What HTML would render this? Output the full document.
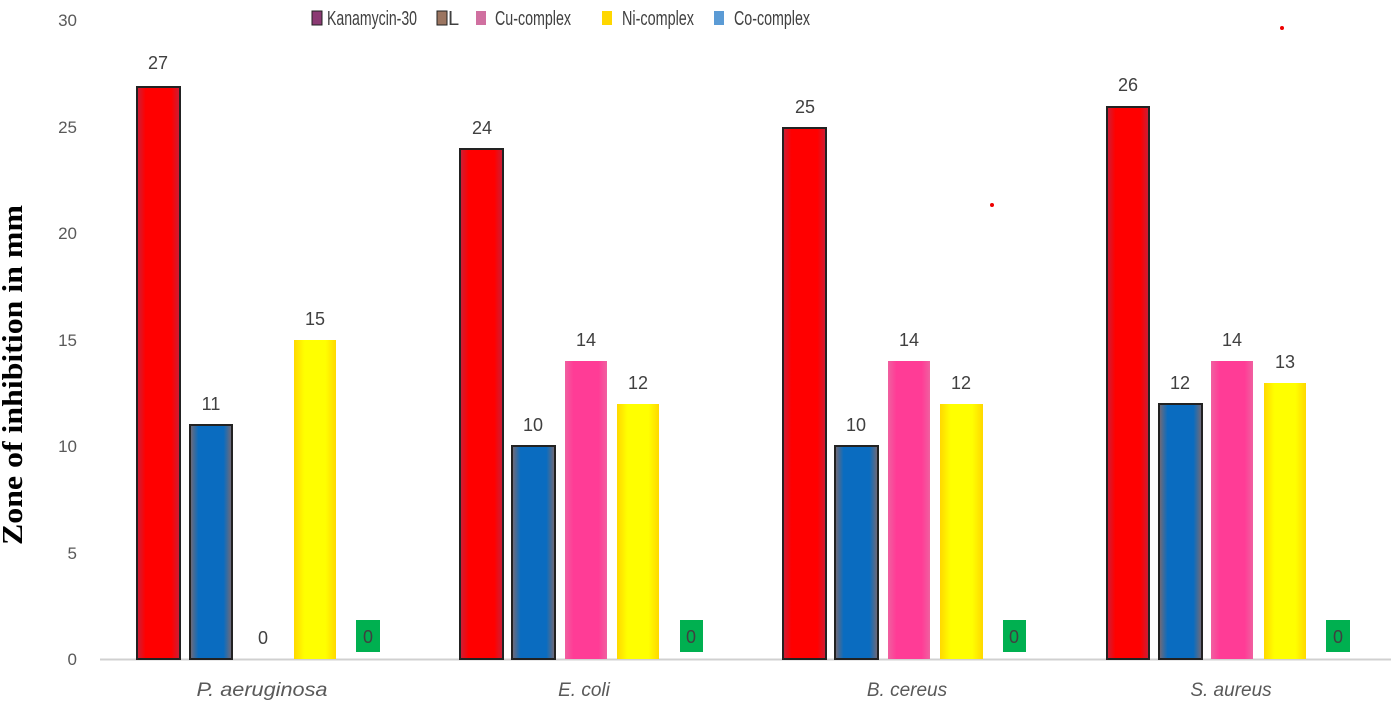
<!DOCTYPE html>
<html><head><meta charset="utf-8"><style>body{margin:0;background:#fff}svg{display:block}</style></head><body>
<svg width="1396" height="707" xmlns="http://www.w3.org/2000/svg" font-family="Liberation Sans, sans-serif">
<defs>
<linearGradient id="r" x1="0" x2="1"><stop offset="0" stop-color="#c8203a"/><stop offset=".2" stop-color="#ff0000"/><stop offset=".8" stop-color="#ff0000"/><stop offset="1" stop-color="#c8203a"/></linearGradient>
<linearGradient id="b" x1="0" x2="1"><stop offset="0" stop-color="#7a6a70"/><stop offset=".2" stop-color="#0a6cc0"/><stop offset=".8" stop-color="#0a6cc0"/><stop offset="1" stop-color="#7a6a70"/></linearGradient>
<linearGradient id="p" x1="0" x2="1"><stop offset="0" stop-color="#f060a0"/><stop offset=".2" stop-color="#ff3c96"/><stop offset=".8" stop-color="#ff3c96"/><stop offset="1" stop-color="#f060a0"/></linearGradient>
<linearGradient id="y" x1="0" x2="1"><stop offset="0" stop-color="#ffd800"/><stop offset=".25" stop-color="#ffff00"/><stop offset=".75" stop-color="#ffff00"/><stop offset="1" stop-color="#ffd800"/></linearGradient>
</defs>
<g fill="#595959" font-size="17" text-anchor="end">
<text x="77" y="665">0</text><text x="77" y="559">5</text><text x="77" y="452">10</text><text x="77" y="346">15</text><text x="77" y="239">20</text><text x="77" y="133">25</text><text x="77" y="26">30</text>
</g>
<text transform="translate(22,375) rotate(-90)" text-anchor="middle" font-family="Liberation Serif, serif" font-weight="bold" font-size="29" fill="#000" textLength="340" lengthAdjust="spacingAndGlyphs">Zone of inhibition in mm</text>
<line x1="100" y1="659.5" x2="1391" y2="659.5" stroke="#d0d0d0" stroke-width="2"/>
<g font-size="20" fill="#404040">
<rect x="312" y="11" width="10" height="14" fill="#8b3a73" stroke="#222"/><text x="327" y="25" textLength="90" lengthAdjust="spacingAndGlyphs">Kanamycin-30</text>
<rect x="437" y="11" width="10" height="14" fill="#9b7560" stroke="#222"/><text x="448" y="25">L</text>
<rect x="476" y="11" width="10" height="14" fill="#d070a0"/><text x="495" y="25" textLength="76" lengthAdjust="spacingAndGlyphs">Cu-complex</text>
<rect x="602" y="11" width="10" height="14" fill="#ffd700"/><text x="622" y="25" textLength="72" lengthAdjust="spacingAndGlyphs">Ni-complex</text>
<rect x="714" y="11" width="10" height="14" fill="#5b9bd5"/><text x="734" y="25" textLength="76" lengthAdjust="spacingAndGlyphs">Co-complex</text>
</g>
<g stroke="#222" stroke-width="2">
<rect x="137" y="87" width="43" height="572" fill="url(#r)"/>
<rect x="190" y="425" width="42" height="234" fill="url(#b)"/>
<rect x="460" y="149" width="43" height="510" fill="url(#r)"/>
<rect x="512" y="446" width="43" height="213" fill="url(#b)"/>
<rect x="783" y="128" width="43" height="531" fill="url(#r)"/>
<rect x="835" y="446" width="43" height="213" fill="url(#b)"/>
<rect x="1107" y="107" width="42" height="552" fill="url(#r)"/>
<rect x="1159" y="404" width="43" height="255" fill="url(#b)"/>
</g>
<g>
<rect x="294" y="340" width="42" height="319" fill="url(#y)"/>
<rect x="565" y="361" width="42" height="298" fill="url(#p)"/>
<rect x="617" y="404" width="42" height="255" fill="url(#y)"/>
<rect x="888" y="361" width="42" height="298" fill="url(#p)"/>
<rect x="940" y="404" width="43" height="255" fill="url(#y)"/>
<rect x="1211" y="361" width="42" height="298" fill="url(#p)"/>
<rect x="1264" y="383" width="42" height="276" fill="url(#y)"/>
<rect x="356" y="620" width="24" height="32" fill="#00b050"/>
<rect x="680" y="620" width="23" height="32" fill="#00b050"/>
<rect x="1003" y="620" width="23" height="32" fill="#00b050"/>
<rect x="1326" y="620" width="24" height="32" fill="#00b050"/>
<circle cx="1282" cy="28" r="2" fill="#e00"/><circle cx="992" cy="205" r="2" fill="#e00"/>
</g>
<g font-size="18" fill="#404040" text-anchor="middle">
<text x="158" y="69">27</text><text x="211" y="410">11</text><text x="263" y="644">0</text><text x="315" y="325">15</text><text x="368" y="643">0</text>
<text x="482" y="134">24</text><text x="533" y="431">10</text><text x="586" y="346">14</text><text x="638" y="389">12</text><text x="691" y="643">0</text>
<text x="805" y="113">25</text><text x="856" y="431">10</text><text x="909" y="346">14</text><text x="961" y="389">12</text><text x="1014" y="643">0</text>
<text x="1128" y="91">26</text><text x="1180" y="389">12</text><text x="1232" y="346">14</text><text x="1285" y="368">13</text><text x="1338" y="643">0</text>
</g>
<g font-size="19" fill="#595959" font-style="italic" text-anchor="middle">
<text x="262" y="696" textLength="131" lengthAdjust="spacingAndGlyphs">P. aeruginosa</text><text x="584" y="696">E. coli</text><text x="907" y="696">B. cereus</text><text x="1231" y="696">S. aureus</text>
</g>
</svg>
</body></html>
